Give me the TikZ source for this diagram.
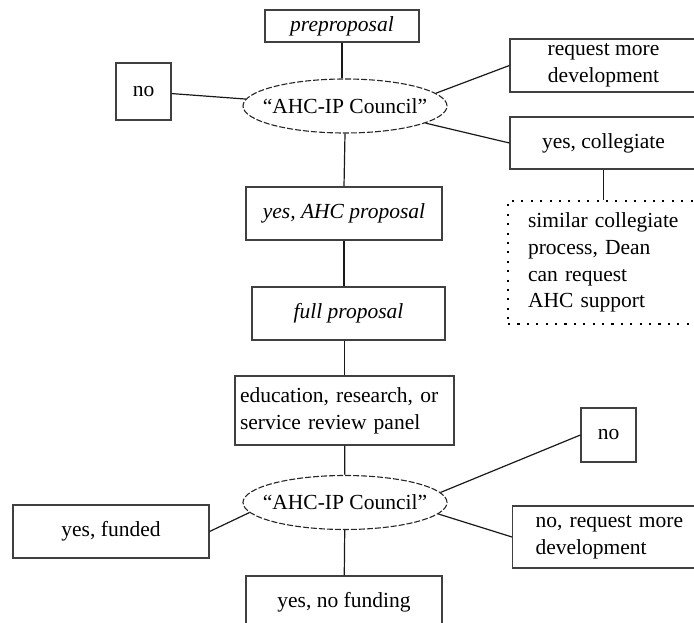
\documentclass[tikz,border=0pt]{standalone}
\usepackage{fontspec}
\setmainfont{Liberation Serif}
\usetikzlibrary{shapes,calc,positioning}

\begin{document}
\begin{tikzpicture}[x=1pt,y=-1pt,font=\fontsize{21.5}{26.7}\selectfont]
  \tikzset{ bx/.style={rectangle,draw=black!75,line width=1.2pt,inner sep=0pt,align=center},
            el/.style={ellipse,draw=black!85,line width=1.1pt,dash pattern=on 6pt off 2pt,inner sep=0pt,minimum width=204,minimum height=54},
            dt/.style={rectangle,draw=black,line width=2.1pt,dash pattern=on 2.1pt off 7.3pt,inner sep=0pt,align=left},
            ln/.style={black!90,line width=1.2pt},
  }
  \useasboundingbox (0,0) rectangle (694,623);

  \node[bx,minimum width=154,minimum height=32] (pre) at (342,26) {\textit{preproposal}};
  \node[el,label=center:{“AHC-IP Council”}] (c1) at (345,106) {};
  \node[bx,minimum width=55,minimum height=57] (no1) at (143.5,91.5) {no};
  \node[bx,minimum width=187,minimum height=53] (more1) at (603.5,65.5) {request more\\development};
  \node[bx,minimum width=187,minimum height=52] (col) at (603.5,143) {yes, collegiate};
  \node[dt,anchor=west,text width=160,inner xsep=20,minimum height=123] (sim) at (507,262.5) {similar collegiate\\process, Dean\\can request\\AHC support};
  \node[bx,minimum width=196,minimum height=53] (ahc) at (344,213.5) {\textit{yes, AHC proposal}};
  \node[bx,minimum width=193,minimum height=53] (full) at (348.5,313.5) {\textit{full proposal}};
  \node[bx,text width=209,inner xsep=5,minimum height=69,align=left] (rev) at (344.5,410.5) {education, research, or\\service review panel};
  \node[el,label=center:{“AHC-IP Council”}] (c2) at (345,502.5) {};
  \node[bx,minimum width=55,minimum height=54] (no2) at (608.5,435) {no};
  \node[bx,minimum width=196,minimum height=53] (fund) at (111,531.5) {yes, funded};
  \node[bx,anchor=west,text width=160,inner xsep=23,minimum height=62,align=left] (more2) at (512,537) {no, request more\\development};
  \node[bx,minimum width=196,minimum height=52] (nofund) at (344,602) {yes, no funding};

  \draw[ln] (pre.south) -- (pre.south |- c1.north);
  \draw[ln] (no1) -- (c1.176);
  \draw[ln] (c1.8) -- (more1.west);
  \draw[ln] (c1.-12) -- (col.west);
  \draw[ln] (col.south) -- (col.south |- sim.north);
  \draw[ln] (c1.south) -- (ahc.north);
  \draw[ln] (ahc.south) -- (ahc.south |- full.north);
  \draw[ln] (rev.north |- full.south) -- (rev.north);
  \draw[ln] (rev) -- (c2);
  \draw[ln] (c2.6) -- (no2.west);
  \draw[ln] (c2.-7) -- (more2.west);
  \draw[ln] (fund.east) -- (c2.186);
  \draw[ln] (c2) -- (nofund);
\end{tikzpicture}
\end{document}
